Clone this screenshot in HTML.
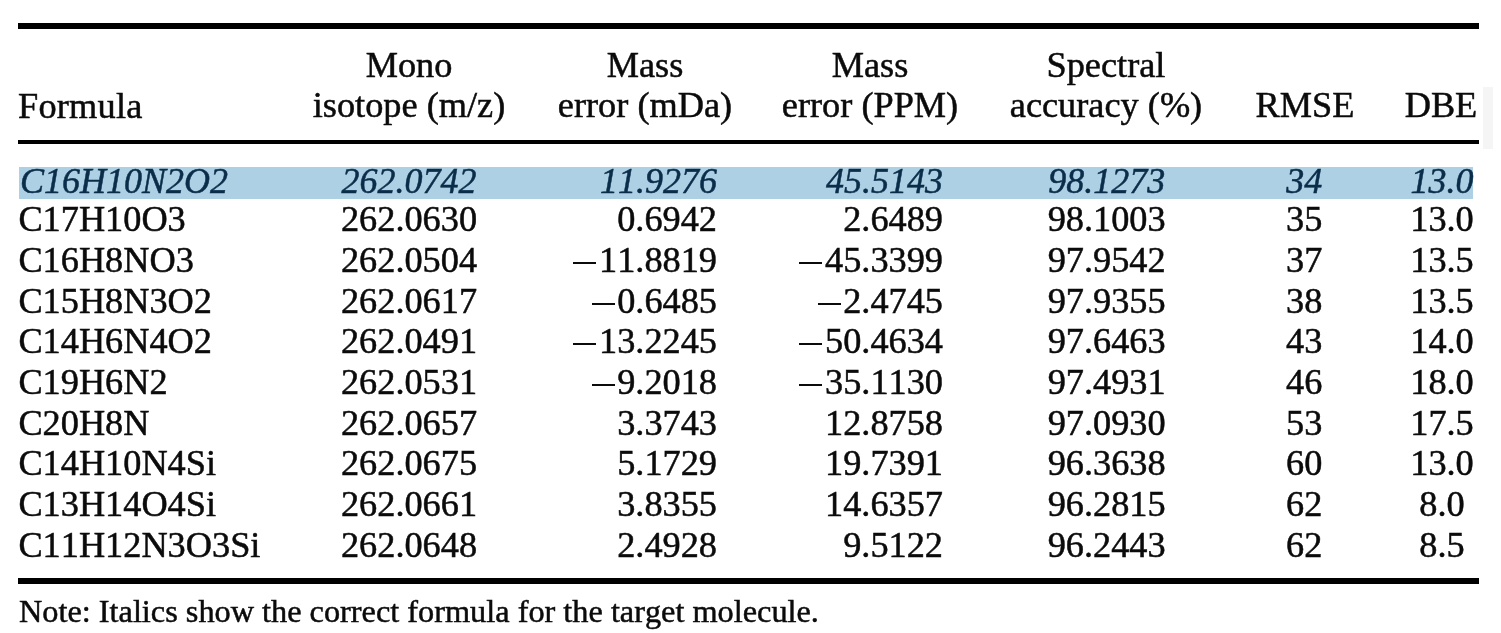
<!DOCTYPE html>
<html><head><meta charset="utf-8"><title>Table</title>
<style>
html,body{margin:0;padding:0;background:#fff;}
body{width:1501px;height:633px;position:relative;overflow:hidden;filter:blur(0.65px);font-family:"Liberation Serif",serif;}
.t{position:absolute;-webkit-text-stroke:0.5px currentColor;white-space:nowrap;font-kerning:none;font-feature-settings:"kern" 0,"liga" 0;line-height:40.0px;font-family:"Liberation Serif",serif;}
.r{position:absolute;}
.h{position:absolute;width:0;height:0;overflow:hidden;font-size:0;}
.m{display:inline-block;width:27px;height:2px;vertical-align:8px;background:linear-gradient(#0b0b0b,#0b0b0b) no-repeat 1.4px 0/23px 2px;}
</style></head><body>
<div class="r" style="left:17.8px;top:22.7px;width:1461.2px;height:6.100000000000001px;background:#000;"></div>
<div class="r" style="left:17.8px;top:139.9px;width:1461.2px;height:4.5px;background:#000;"></div>
<div class="r" style="left:17.8px;top:577.7px;width:1461.2px;height:5.899999999999977px;background:#000;"></div>
<div class="r" style="left:19px;top:166.8px;width:1454px;height:31.899999999999977px;background:#aed0e4;"></div>
<div class="r" style="left:1482.5px;top:87px;width:10.5px;height:62px;background:#f5f5f5;"></div>
<span class="t" style="top:85.75px;font-size:36.3px;color:#0b0b0b;letter-spacing:0.22px;left:18px;">Formula</span>
<span class="t" style="top:44.75px;font-size:36.3px;color:#0b0b0b;left:409px;transform:translateX(-50%);">Mono</span>
<span class="t" style="top:84.75px;font-size:36.3px;color:#0b0b0b;left:409px;transform:translateX(-50%);">isotope (m/z)</span>
<span class="t" style="top:44.75px;font-size:36.3px;color:#0b0b0b;left:645px;transform:translateX(-50%);">Mass</span>
<span class="t" style="top:84.75px;font-size:36.3px;color:#0b0b0b;left:645px;transform:translateX(-50%);">error (mDa)</span>
<span class="t" style="top:44.75px;font-size:36.3px;color:#0b0b0b;left:870px;transform:translateX(-50%);">Mass</span>
<span class="t" style="top:84.75px;font-size:36.3px;color:#0b0b0b;left:870px;transform:translateX(-50%);">error (PPM)</span>
<span class="t" style="top:44.75px;font-size:36.3px;color:#0b0b0b;left:1106px;transform:translateX(-50%);">Spectral</span>
<span class="t" style="top:84.75px;font-size:36.3px;color:#0b0b0b;left:1106px;transform:translateX(-50%);">accuracy (%)</span>
<span class="t" style="top:84.75px;font-size:36.3px;color:#0b0b0b;left:1305px;transform:translateX(-50%);">RMSE</span>
<span class="t" style="top:84.75px;font-size:36.3px;color:#0b0b0b;left:1441px;transform:translateX(-50%);">DBE</span>
<span class="t" style="top:160.85px;font-size:36.0px;color:#0a2d4a;font-style:italic;left:20.0px;">C16H10N2O2</span>
<span class="t" style="top:160.85px;font-size:36.0px;color:#0a2d4a;font-style:italic;left:409px;transform:translateX(-50%);">262.0742</span>
<span class="t" style="top:160.85px;font-size:36.0px;color:#0a2d4a;font-style:italic;right:784px;">11.9276</span>
<span class="t" style="top:160.85px;font-size:36.0px;color:#0a2d4a;font-style:italic;right:558px;">45.5143</span>
<span class="t" style="top:160.85px;font-size:36.0px;color:#0a2d4a;font-style:italic;left:1106.7px;transform:translateX(-50%);">98.1273</span>
<span class="t" style="top:160.85px;font-size:36.0px;color:#0a2d4a;font-style:italic;left:1304.2px;transform:translateX(-50%);">34</span>
<span class="t" style="top:160.85px;font-size:36.0px;color:#0a2d4a;font-style:italic;left:1442px;transform:translateX(-50%);">13.0</span>
<span class="t" style="top:198.75px;font-size:36.3px;color:#0b0b0b;left:18.4px;">C17H10O3</span>
<span class="t" style="top:198.75px;font-size:36.3px;color:#0b0b0b;left:409px;transform:translateX(-50%);">262.0630</span>
<span class="t" style="top:198.75px;font-size:36.3px;color:#0b0b0b;right:784px;">0.6942</span>
<span class="t" style="top:198.75px;font-size:36.3px;color:#0b0b0b;right:558px;">2.6489</span>
<span class="t" style="top:198.75px;font-size:36.3px;color:#0b0b0b;left:1106.7px;transform:translateX(-50%);">98.1003</span>
<span class="t" style="top:198.75px;font-size:36.3px;color:#0b0b0b;left:1304.2px;transform:translateX(-50%);">35</span>
<span class="t" style="top:198.75px;font-size:36.3px;color:#0b0b0b;left:1442px;transform:translateX(-50%);">13.0</span>
<span class="t" style="top:239.75px;font-size:36.3px;color:#0b0b0b;left:18.4px;">C16H8NO3</span>
<span class="t" style="top:239.75px;font-size:36.3px;color:#0b0b0b;left:409px;transform:translateX(-50%);">262.0504</span>
<span class="t" style="top:239.75px;font-size:36.3px;color:#0b0b0b;right:784px;"><span class="m"></span><span class="h">−</span>11.8819</span>
<span class="t" style="top:239.75px;font-size:36.3px;color:#0b0b0b;right:558px;"><span class="m"></span><span class="h">−</span>45.3399</span>
<span class="t" style="top:239.75px;font-size:36.3px;color:#0b0b0b;left:1106.7px;transform:translateX(-50%);">97.9542</span>
<span class="t" style="top:239.75px;font-size:36.3px;color:#0b0b0b;left:1304.2px;transform:translateX(-50%);">37</span>
<span class="t" style="top:239.75px;font-size:36.3px;color:#0b0b0b;left:1442px;transform:translateX(-50%);">13.5</span>
<span class="t" style="top:280.75px;font-size:36.3px;color:#0b0b0b;left:18.4px;">C15H8N3O2</span>
<span class="t" style="top:280.75px;font-size:36.3px;color:#0b0b0b;left:409px;transform:translateX(-50%);">262.0617</span>
<span class="t" style="top:280.75px;font-size:36.3px;color:#0b0b0b;right:784px;"><span class="m"></span><span class="h">−</span>0.6485</span>
<span class="t" style="top:280.75px;font-size:36.3px;color:#0b0b0b;right:558px;"><span class="m"></span><span class="h">−</span>2.4745</span>
<span class="t" style="top:280.75px;font-size:36.3px;color:#0b0b0b;left:1106.7px;transform:translateX(-50%);">97.9355</span>
<span class="t" style="top:280.75px;font-size:36.3px;color:#0b0b0b;left:1304.2px;transform:translateX(-50%);">38</span>
<span class="t" style="top:280.75px;font-size:36.3px;color:#0b0b0b;left:1442px;transform:translateX(-50%);">13.5</span>
<span class="t" style="top:320.75px;font-size:36.3px;color:#0b0b0b;left:18.4px;">C14H6N4O2</span>
<span class="t" style="top:320.75px;font-size:36.3px;color:#0b0b0b;left:409px;transform:translateX(-50%);">262.0491</span>
<span class="t" style="top:320.75px;font-size:36.3px;color:#0b0b0b;right:784px;"><span class="m"></span><span class="h">−</span>13.2245</span>
<span class="t" style="top:320.75px;font-size:36.3px;color:#0b0b0b;right:558px;"><span class="m"></span><span class="h">−</span>50.4634</span>
<span class="t" style="top:320.75px;font-size:36.3px;color:#0b0b0b;left:1106.7px;transform:translateX(-50%);">97.6463</span>
<span class="t" style="top:320.75px;font-size:36.3px;color:#0b0b0b;left:1304.2px;transform:translateX(-50%);">43</span>
<span class="t" style="top:320.75px;font-size:36.3px;color:#0b0b0b;left:1442px;transform:translateX(-50%);">14.0</span>
<span class="t" style="top:361.75px;font-size:36.3px;color:#0b0b0b;left:18.4px;">C19H6N2</span>
<span class="t" style="top:361.75px;font-size:36.3px;color:#0b0b0b;left:409px;transform:translateX(-50%);">262.0531</span>
<span class="t" style="top:361.75px;font-size:36.3px;color:#0b0b0b;right:784px;"><span class="m"></span><span class="h">−</span>9.2018</span>
<span class="t" style="top:361.75px;font-size:36.3px;color:#0b0b0b;right:558px;"><span class="m"></span><span class="h">−</span>35.1130</span>
<span class="t" style="top:361.75px;font-size:36.3px;color:#0b0b0b;left:1106.7px;transform:translateX(-50%);">97.4931</span>
<span class="t" style="top:361.75px;font-size:36.3px;color:#0b0b0b;left:1304.2px;transform:translateX(-50%);">46</span>
<span class="t" style="top:361.75px;font-size:36.3px;color:#0b0b0b;left:1442px;transform:translateX(-50%);">18.0</span>
<span class="t" style="top:402.75px;font-size:36.3px;color:#0b0b0b;left:18.4px;">C20H8N</span>
<span class="t" style="top:402.75px;font-size:36.3px;color:#0b0b0b;left:409px;transform:translateX(-50%);">262.0657</span>
<span class="t" style="top:402.75px;font-size:36.3px;color:#0b0b0b;right:784px;">3.3743</span>
<span class="t" style="top:402.75px;font-size:36.3px;color:#0b0b0b;right:558px;">12.8758</span>
<span class="t" style="top:402.75px;font-size:36.3px;color:#0b0b0b;left:1106.7px;transform:translateX(-50%);">97.0930</span>
<span class="t" style="top:402.75px;font-size:36.3px;color:#0b0b0b;left:1304.2px;transform:translateX(-50%);">53</span>
<span class="t" style="top:402.75px;font-size:36.3px;color:#0b0b0b;left:1442px;transform:translateX(-50%);">17.5</span>
<span class="t" style="top:442.75px;font-size:36.3px;color:#0b0b0b;left:18.4px;">C14H10N4Si</span>
<span class="t" style="top:442.75px;font-size:36.3px;color:#0b0b0b;left:409px;transform:translateX(-50%);">262.0675</span>
<span class="t" style="top:442.75px;font-size:36.3px;color:#0b0b0b;right:784px;">5.1729</span>
<span class="t" style="top:442.75px;font-size:36.3px;color:#0b0b0b;right:558px;">19.7391</span>
<span class="t" style="top:442.75px;font-size:36.3px;color:#0b0b0b;left:1106.7px;transform:translateX(-50%);">96.3638</span>
<span class="t" style="top:442.75px;font-size:36.3px;color:#0b0b0b;left:1304.2px;transform:translateX(-50%);">60</span>
<span class="t" style="top:442.75px;font-size:36.3px;color:#0b0b0b;left:1442px;transform:translateX(-50%);">13.0</span>
<span class="t" style="top:483.75px;font-size:36.3px;color:#0b0b0b;left:18.4px;">C13H14O4Si</span>
<span class="t" style="top:483.75px;font-size:36.3px;color:#0b0b0b;left:409px;transform:translateX(-50%);">262.0661</span>
<span class="t" style="top:483.75px;font-size:36.3px;color:#0b0b0b;right:784px;">3.8355</span>
<span class="t" style="top:483.75px;font-size:36.3px;color:#0b0b0b;right:558px;">14.6357</span>
<span class="t" style="top:483.75px;font-size:36.3px;color:#0b0b0b;left:1106.7px;transform:translateX(-50%);">96.2815</span>
<span class="t" style="top:483.75px;font-size:36.3px;color:#0b0b0b;left:1304.2px;transform:translateX(-50%);">62</span>
<span class="t" style="top:483.75px;font-size:36.3px;color:#0b0b0b;left:1442px;transform:translateX(-50%);">8.0</span>
<span class="t" style="top:524.75px;font-size:36.3px;color:#0b0b0b;left:18.4px;">C11H12N3O3Si</span>
<span class="t" style="top:524.75px;font-size:36.3px;color:#0b0b0b;left:409px;transform:translateX(-50%);">262.0648</span>
<span class="t" style="top:524.75px;font-size:36.3px;color:#0b0b0b;right:784px;">2.4928</span>
<span class="t" style="top:524.75px;font-size:36.3px;color:#0b0b0b;right:558px;">9.5122</span>
<span class="t" style="top:524.75px;font-size:36.3px;color:#0b0b0b;left:1106.7px;transform:translateX(-50%);">96.2443</span>
<span class="t" style="top:524.75px;font-size:36.3px;color:#0b0b0b;left:1304.2px;transform:translateX(-50%);">62</span>
<span class="t" style="top:524.75px;font-size:36.3px;color:#0b0b0b;left:1442px;transform:translateX(-50%);">8.5</span>
<span class="t" style="top:590.70px;font-size:32.3px;color:#0b0b0b;left:19px;">Note: Italics show the correct formula for the target molecule.</span>
</body></html>
